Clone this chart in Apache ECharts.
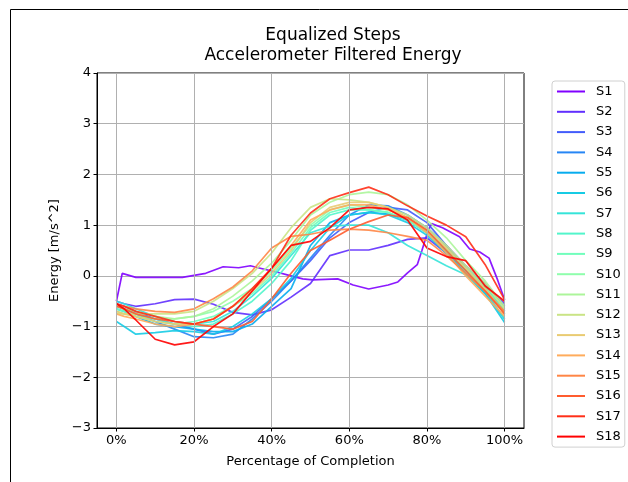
<!DOCTYPE html>
<html>
<head>
<meta charset="utf-8">
<script src="https://cdn.jsdelivr.net/npm/echarts@6/dist/echarts.min.js"></script>
<style>html,body{margin:0;padding:0;background:#fff}#c{width:628px;height:482px}</style>
</head>
<body>
<div id="c"></div>
<script>
const X = [0,2,5,10,15,20,25,30,35,40,45,50,55,60,65,70,75,80,85,90,95,100];
const X1 = [0,1.5,5,12,17,23,27.5,31.5,34.5,36.5,41,44,48,50.5,57,61,65,70,72.5,75,77.5,78.7,80.2,81.2,84,88.4,91,93.6,96,98.2,100];
const S1 = [-0.5,0.05,-0.03,-0.03,-0.03,0.05,0.18,0.16,0.2,0.16,0.08,0.02,-0.06,-0.08,-0.06,-0.18,-0.26,-0.18,-0.12,0.06,0.22,0.5,0.87,1.03,0.95,0.77,0.53,0.47,0.35,-0.08,-0.47];
const S2 = [-0.5,-0.55,-0.6,-0.55,-0.47,-0.46,-0.56,-0.72,-0.77,-0.67,-0.42,-0.15,0.4,0.51,0.51,0.6,0.72,0.75,0.45,0.12,-0.2,-0.55];
const S3 = [-0.55,-0.6,-0.7,-0.85,-0.95,-1.05,-1.15,-1.05,-0.8,-0.45,-0.1,0.3,0.75,1.05,1.25,1.35,1.3,1.05,0.6,0.2,-0.15,-0.6];
const S4 = [-0.6,-0.65,-0.75,-0.9,-1.05,-1.2,-1.22,-1.15,-0.85,-0.5,-0.1,0.35,0.8,1.2,1.4,1.38,1.2,0.95,0.6,0.15,-0.2,-0.7];
const S5 = [-0.65,-0.7,-0.8,-0.95,-1.0,-1.05,-1.1,-1.1,-0.95,-0.6,-0.25,0.6,1.05,1.2,1.25,1.22,1.1,0.85,0.45,0.05,-0.35,-0.85];
const S6 = [-0.9,-1.0,-1.15,-1.12,-1.08,-1.1,-1.15,-1.0,-0.75,-0.45,-0.05,0.5,0.95,1.2,1.25,1.2,1.05,0.8,0.45,0.05,-0.35,-0.92];
const S7 = [-0.5,-0.55,-0.65,-0.8,-0.9,-0.95,-0.9,-0.7,-0.4,-0.05,0.4,0.85,0.98,1.0,1.0,0.85,0.6,0.4,0.2,0.02,-0.3,-0.85];
const S8 = [-0.6,-0.65,-0.75,-0.85,-0.95,-1.0,-0.95,-0.75,-0.5,-0.15,0.3,0.9,1.2,1.3,1.3,1.25,1.1,0.85,0.5,0.15,-0.25,-0.75];
const S9 = [-0.65,-0.7,-0.8,-0.9,-0.95,-0.9,-0.8,-0.6,-0.35,0.0,0.45,0.95,1.25,1.35,1.3,1.25,1.1,0.85,0.5,0.1,-0.25,-0.7];
const S10 = [-0.7,-0.75,-0.8,-0.85,-0.85,-0.8,-0.7,-0.5,-0.25,0.1,0.55,1.0,1.3,1.4,1.35,1.3,1.15,0.9,0.55,0.15,-0.2,-0.65];
const S11 = [-0.6,-0.65,-0.7,-0.8,-0.85,-0.8,-0.65,-0.4,-0.1,0.25,0.7,1.2,1.45,1.6,1.65,1.6,1.4,1.1,0.75,0.3,-0.1,-0.6];
const S12 = [-0.75,-0.75,-0.75,-0.75,-0.75,-0.7,-0.5,-0.25,0.05,0.45,0.95,1.35,1.52,1.5,1.45,1.35,1.2,0.95,0.6,0.2,-0.15,-0.65];
const S13 = [-0.7,-0.75,-0.8,-0.9,-0.95,-0.95,-0.85,-0.6,-0.3,0.05,0.5,1.05,1.35,1.45,1.45,1.35,1.15,0.9,0.55,0.15,-0.25,-0.75];
const S14 = [-0.75,-0.8,-0.85,-0.95,-1.0,-0.95,-0.85,-0.6,-0.25,0.15,0.6,1.1,1.3,1.4,1.4,1.3,1.15,0.85,0.45,0.0,-0.4,-0.8];
const S15 = [-0.55,-0.6,-0.65,-0.7,-0.72,-0.65,-0.45,-0.22,0.1,0.55,0.78,0.82,0.9,0.92,0.9,0.85,0.78,0.7,0.4,0.05,-0.3,-0.7];
const S16 = [-0.6,-0.65,-0.75,-0.85,-0.9,-0.95,-1.0,-1.05,-0.9,-0.45,0.05,0.5,0.7,0.92,1.07,1.2,1.15,0.9,0.5,0.1,-0.3,-0.75];
const S17 = [-0.55,-0.6,-0.7,-0.8,-0.9,-0.95,-0.85,-0.6,-0.25,0.15,0.8,1.24,1.52,1.64,1.75,1.6,1.38,1.18,1.0,0.77,0.22,-0.47];
const S18 = [-0.55,-0.65,-0.87,-1.25,-1.36,-1.3,-1.0,-0.75,-0.3,0.15,0.6,0.68,0.95,1.3,1.35,1.32,1.1,0.55,0.38,0.3,-0.2,-0.5];

const NAMES = ['S1','S2','S3','S4','S5','S6','S7','S8','S9','S10','S11','S12','S13','S14','S15','S16','S17','S18'];
const COLORS = ['#8000ff','#612ffe','#435cfb','#2686f5','#07acee','#16cbe4','#35e4d9','#52f5cb','#71febc','#8ffeac','#acf59a','#cae486','#e9cb72','#ffac5c','#ff8646','#ff5c2f','#ff2f18','#ff0000'];
const YS = [S1,S2,S3,S4,S5,S6,S7,S8,S9,S10,S11,S12,S13,S14,S15,S16,S17,S18];
const XTICKS = [0,20,40,60,80,100];

const FONT = 'DejaVu Sans';
const series = YS.map((ys, k) => {
  const xs = k === 0 ? X1 : X;
  return {
    name: NAMES[k], type: 'line', symbol: 'none', z: 3,
    data: xs.map((x, i) => [x, ys[i]]),
    lineStyle: { width: 1.7, color: COLORS[k], opacity: 0.9 },
    itemStyle: { color: COLORS[k] },
    emphasis: { disabled: true }
  };
});
series.unshift({
  name: '_grid', type: 'line', data: [], z: 1, silent: true,
  markLine: {
    silent: true, symbol: 'none', label: { show: false },
    lineStyle: { color: '#b0b0b0', width: 1, type: 'solid' },
    emphasis: { disabled: true },
    data: XTICKS.map(v => ({ xAxis: v }))
  }
});

const chart = echarts.init(document.getElementById('c'), null, { renderer: 'canvas' });
chart.setOption({
  animation: false,
  backgroundColor: '#fff',
  textStyle: { fontFamily: FONT },
  title: {
    text: 'Equalized Steps\nAccelerometer Filtered Energy',
    left: 328, top: 21, textAlign: 'center',
    textStyle: { fontFamily: FONT, fontSize: 17, fontWeight: 'normal', color: '#000', lineHeight: 19.5 }
  },
  graphic: [{
    type: 'rect', shape: { x: 10.5, y: 9.5, width: 700, height: 600 },
    style: { fill: 'none', stroke: '#000', lineWidth: 1 }, silent: true, z: 100
  }],
  legend: {
    orient: 'vertical', left: 552, top: 81,
    padding: [3, 4, 3, 5], itemGap: 5.3,
    itemWidth: 28, itemHeight: 2, icon: 'rect',
    backgroundColor: '#fff', borderColor: '#d0d0d0', borderWidth: 1, borderRadius: 3,
    data: NAMES,
    textStyle: { fontFamily: FONT, fontSize: 13, color: '#000', lineHeight: 15, padding: [0, 0, 0, 6] }
  },
  grid: { left: 97, top: 73, width: 427, height: 355, show: true, borderColor: '#000', borderWidth: 1, backgroundColor: 'transparent' },
  xAxis: {
    type: 'value', min: -5, max: 105,
    name: 'Percentage of Completion', nameLocation: 'middle', nameGap: 27,
    nameTextStyle: { fontFamily: FONT, fontSize: 13, color: '#000' },
    axisLine: { show: true, onZero: false, lineStyle: { color: '#000', width: 1 } },
    axisTick: { show: true, customValues: XTICKS, length: 3.5, lineStyle: { color: '#000' } },
    axisLabel: { customValues: XTICKS, formatter: v => v + '%', fontFamily: FONT, fontSize: 13, color: '#000', margin: 6 },
    splitLine: { show: false }
  },
  yAxis: {
    type: 'value', min: -3, max: 4, interval: 1,
    name: 'Energy [m/s^2]', nameLocation: 'middle', nameGap: 32, nameRotate: 90,
    nameTextStyle: { fontFamily: FONT, fontSize: 13, color: '#000' },
    axisLine: { show: true, onZero: false, lineStyle: { color: '#000', width: 1 } },
    axisTick: { show: true, length: 3.5, lineStyle: { color: '#000' } },
    axisLabel: { formatter: v => String(v).replace('-', '\u2212'), fontFamily: FONT, fontSize: 13, color: '#000', margin: 6 },
    splitLine: { show: true, lineStyle: { color: '#b0b0b0', width: 1 } }
  },
  series: series
});
</script>
</body>
</html>
